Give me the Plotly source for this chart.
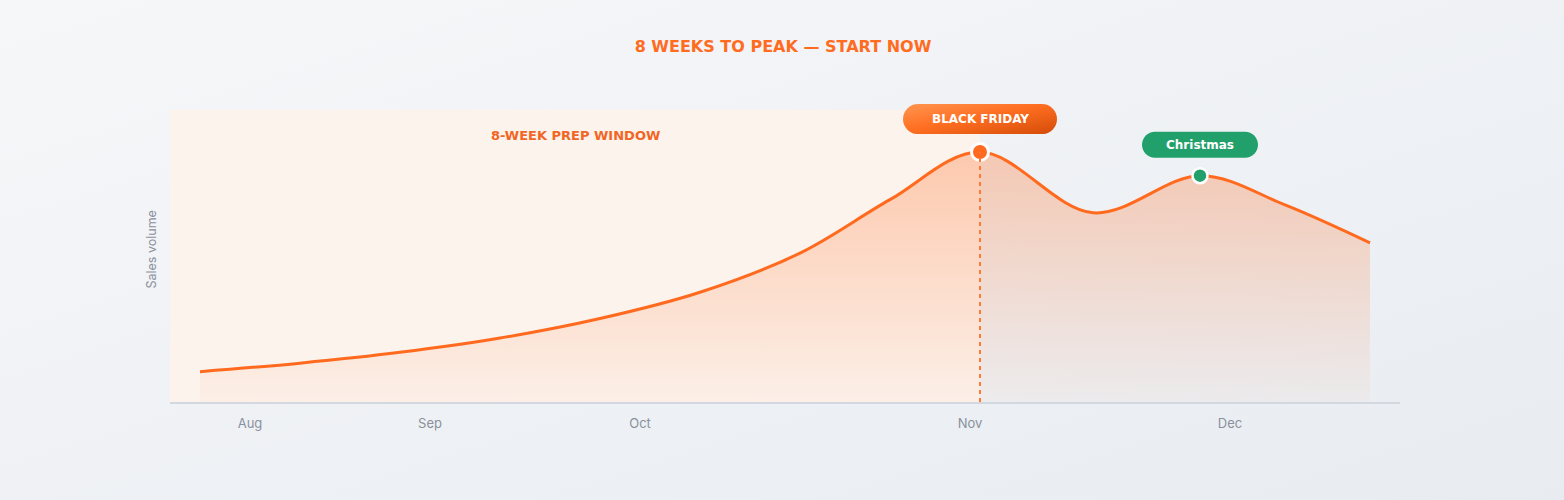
import base64
import plotly.graph_objects as go

# ---------------- data ----------------
months = ["Aug", "Sep", "Oct", "Nov", "Dec"]
month_pos = [8, 26, 47, 80, 106]
week_x = [3, 13, 23, 33, 43, 53, 63, 72, 81, 92.3, 103, 111.5, 120]
sales = [10.4, 13.3, 17.0, 21.9, 28.6, 37.6, 51.0, 69.3, 85.6, 64.8, 77.5, 67.5, 54.5]
event_names = ["BLACK FRIDAY", "Christmas"]
event_idx = [8, 10]
title_text = "8 WEEKS TO PEAK — START NOW"
prep_label = "8-WEEK PREP WINDOW"
y_title = "Sales volume"

# ---------------- geometry ----------------
W, H = 1564, 500
ML, MR, MT, MB = 170, 164, 110, 98
X_RANGE = [0, 123]
Y_RANGE = [0, 100]
PW, PH = W - ML - MR, H - MT - MB

ORANGE = "#ff6a1f"
GREEN = "#22a06b"
GREY = "#8a909c"


def svg_uri(svg):
    return "data:image/svg+xml;base64," + base64.b64encode(svg.encode()).decode()


bg_svg = (
    '<svg xmlns="http://www.w3.org/2000/svg" width="1564" height="500" viewBox="0 0 1564 500" preserveAspectRatio="none">'
    '<defs><linearGradient id="g" x1="0" y1="0" x2="1" y2="1">'
    '<stop offset="0" stop-color="#f6f7f9"/><stop offset="1" stop-color="#e8ecf1"/>'
    '</linearGradient></defs><rect width="1564" height="500" fill="url(#g)"/></svg>'
)

bf_w, bf_h = 154, 30
bf_svg = (
    f'<svg xmlns="http://www.w3.org/2000/svg" width="{bf_w}" height="{bf_h}" viewBox="0 0 {bf_w} {bf_h}" preserveAspectRatio="none">'
    '<defs><linearGradient id="p" x1="0" y1="0" x2="1" y2="1">'
    '<stop offset="0" stop-color="#ff9550"/><stop offset="0.45" stop-color="#ff6f22"/><stop offset="1" stop-color="#d44c08"/>'
    f'</linearGradient></defs><rect width="{bf_w}" height="{bf_h}" rx="{bf_h/2}" ry="{bf_h/2}" fill="url(#p)"/></svg>'
)


def capsule(w, h, dy):
    r = h / 2
    k = 0.5523 * r
    a = w / 2 - r
    return (
        f"M {-a},{dy - r} L {a},{dy - r} "
        f"C {a + k},{dy - r} {w/2},{dy - k} {w/2},{dy} "
        f"C {w/2},{dy + k} {a + k},{dy + r} {a},{dy + r} "
        f"L {-a},{dy + r} "
        f"C {-a - k},{dy + r} {-w/2},{dy + k} {-w/2},{dy} "
        f"C {-w/2},{dy - k} {-a - k},{dy - r} {-a},{dy - r} Z"
    )


def frac_x(v):
    return (v - X_RANGE[0]) / (X_RANGE[1] - X_RANGE[0])


def frac_y(v):
    return (v - Y_RANGE[0]) / (Y_RANGE[1] - Y_RANGE[0])


fig = go.Figure()

# area + line
fig.add_trace(go.Scatter(
    x=week_x, y=sales, mode="lines",
    line=dict(color=ORANGE, width=3, shape="spline", smoothing=1.0),
    fill="tozeroy",
    fillgradient=dict(type="vertical", start=0, stop=88,
                      colorscale=[[0, "rgba(255,112,40,0.03)"], [1, "rgba(255,112,40,0.33)"]]),
    hoverinfo="skip", showlegend=False,
))

bf_x, bf_y = week_x[event_idx[0]], sales[event_idx[0]]
xm_x, xm_y = week_x[event_idx[1]], sales[event_idx[1]]

# dashed line at black friday
fig.add_shape(type="line", xref="x", yref="y", x0=bf_x, x1=bf_x, y0=0, y1=bf_y,
              line=dict(color="#ff7a35", width=2, dash="4px,4px"), layer="above")

# event dots
fig.add_trace(go.Scatter(
    x=[bf_x], y=[bf_y], mode="markers",
    marker=dict(size=17, color=ORANGE, line=dict(color="white", width=3)),
    hoverinfo="skip", showlegend=False,
))
fig.add_trace(go.Scatter(
    x=[xm_x], y=[xm_y], mode="markers",
    marker=dict(size=15, color=GREEN, line=dict(color="white", width=2.5)),
    hoverinfo="skip", showlegend=False,
))

# prep window shading
fig.add_shape(type="rect", xref="x", yref="paper", x0=X_RANGE[0], x1=bf_x, y0=0, y1=1,
              fillcolor="#fcf3ed", line=dict(width=0), layer="below")

# background + black friday pill images
images = [
    dict(source=svg_uri(bg_svg), xref="paper", yref="paper",
         x=-ML / PW, y=1 + MT / PH, sizex=W / PW, sizey=H / PH,
         xanchor="left", yanchor="top", sizing="stretch", layer="below"),
    dict(source=svg_uri(bf_svg), xref="paper", yref="paper",
         x=frac_x(bf_x), y=frac_y(bf_y) + 33 / PH,
         sizex=bf_w / PW, sizey=bf_h / PH,
         xanchor="center", yanchor="middle", sizing="stretch", layer="above"),
]

# christmas pill
fig.add_shape(type="path", xref="x", yref="y", xsizemode="pixel", ysizemode="pixel",
              xanchor=xm_x, yanchor=xm_y, path=capsule(116, 26, 31),
              fillcolor=GREEN, line=dict(width=0), layer="above")

annotations = [
    dict(text=f"<b>{event_names[0]}</b>", x=bf_x, y=bf_y, yshift=33, xref="x", yref="y",
         showarrow=False, font=dict(family="DejaVu Sans", size=12, color="white")),
    dict(text=f"<b>{event_names[1]}</b>", x=xm_x, y=xm_y, yshift=31, xref="x", yref="y",
         showarrow=False, font=dict(family="DejaVu Sans", size=12, color="white")),
    dict(text=f"<b>{prep_label}</b>", x=40.5, y=1 - 25 / PH, xref="x", yref="paper",
         xanchor="center", yanchor="middle",
         showarrow=False, font=dict(family="DejaVu Sans", size=13, color="#f26522")),
    dict(text=y_title, x=0, y=(402 - 250) / PH, xref="paper", yref="paper",
         xanchor="right", yanchor="middle", xshift=-10, textangle=-90, showarrow=False,
         font=dict(family="Inter", size=12.5, color=GREY)),
]

fig.update_layout(
    width=W, height=H,
    margin=dict(l=ML, r=MR, t=MT, b=MB),
    paper_bgcolor="#eef1f4", plot_bgcolor="rgba(0,0,0,0)",
    title=dict(text=f"<b>{title_text}</b>", x=783 / W, xref="container", xanchor="center",
               y=1 - 46 / H, yref="container", yanchor="middle",
               font=dict(family="DejaVu Sans", size=16, color="#ff6b1f")),
    images=images,
    annotations=annotations,
    showlegend=False,
    xaxis=dict(range=X_RANGE, tickvals=month_pos, ticktext=months, showgrid=False, zeroline=False,
               showline=True, linecolor="#d3d8e0", linewidth=2, ticks="", ticklabelstandoff=8,
               tickfont=dict(family="Inter", size=13, color=GREY), fixedrange=True),
    yaxis=dict(range=Y_RANGE, showgrid=False, zeroline=False, showticklabels=False, showline=False,
               fixedrange=True),
)

fig.write_html("out.html", config={"displayModeBar": False},
               post_script="document.body.style.margin='0';")
